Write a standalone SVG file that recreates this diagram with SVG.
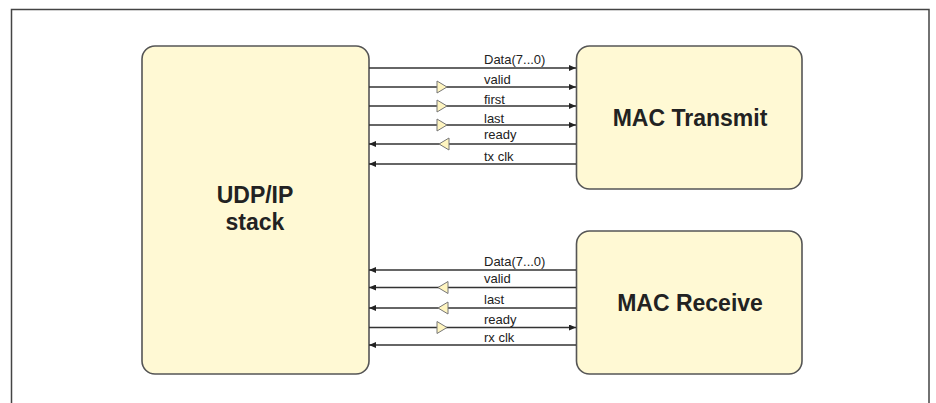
<svg xmlns="http://www.w3.org/2000/svg" width="936" height="403" viewBox="0 0 936 403">
<style>
.box{fill:#fff9d4;stroke:#555;stroke-width:1.6}
.big{font-family:"Liberation Sans",Arial,sans-serif;font-weight:bold;fill:#222;text-anchor:middle}
.lbl{font-family:"Liberation Sans",Arial,sans-serif;font-size:13px;fill:#222}
.w{stroke:#333;stroke-width:1.4;fill:none}
.buf{fill:#fff5c0;stroke:#777;stroke-width:1}
</style>
<defs>
<marker id="ah" markerWidth="8" markerHeight="6" refX="7" refY="3" orient="auto" markerUnits="userSpaceOnUse">
<path d="M0,0 L7,3 L0,6 Z" fill="#222"/>
</marker>
</defs>
<path d="M11.5,403 V9.5 H929 V403" fill="none" stroke="#444" stroke-width="1.5"/>
<g id="udp">
<rect class="box" x="142" y="46" width="227" height="328" rx="13"/>
<text class="big" font-size="23" x="255" y="203">UDP/IP</text>
<text class="big" font-size="23" x="255" y="230">stack</text>
</g>
<g id="mactx">
<rect class="box" x="576.5" y="46" width="225.5" height="143" rx="13"/>
<text class="big" font-size="23" x="690" y="126">MAC Transmit</text>
</g>
<g id="macrx">
<rect class="box" x="576.5" y="231" width="225.5" height="143" rx="13"/>
<text class="big" font-size="23" x="690" y="311">MAC Receive</text>
</g>
<g id="connectors">
<line class="w" x1="369" y1="68" x2="576" y2="68" marker-end="url(#ah)"/>
<line class="w" x1="369" y1="87" x2="576" y2="87" marker-end="url(#ah)"/>
<line class="w" x1="369" y1="106" x2="576" y2="106" marker-end="url(#ah)"/>
<line class="w" x1="369" y1="125" x2="576" y2="125" marker-end="url(#ah)"/>
<line class="w" x1="576" y1="144" x2="369" y2="144" marker-end="url(#ah)" stroke-width="2"/>
<line class="w" x1="576" y1="164" x2="369" y2="164" marker-end="url(#ah)"/>
<path class="buf" d="M437,81 L447,87 L437,93 Z"/>
<path class="buf" d="M437,100 L447,106 L437,112 Z"/>
<path class="buf" d="M437,119 L447,125 L437,131 Z"/>
<path class="buf" d="M449,138 L439,144 L449,150 Z"/>
<line class="w" x1="576" y1="270" x2="369" y2="270" marker-end="url(#ah)"/>
<line class="w" x1="576" y1="287.5" x2="369" y2="287.5" marker-end="url(#ah)"/>
<line class="w" x1="576" y1="308" x2="369" y2="308" marker-end="url(#ah)"/>
<line class="w" x1="369" y1="327.5" x2="576" y2="327.5" marker-end="url(#ah)"/>
<line class="w" x1="576" y1="345" x2="369" y2="345" marker-end="url(#ah)"/>
<path class="buf" d="M448,281.5 L438,287.5 L448,293.5 Z"/>
<path class="buf" d="M448,302 L438,308 L448,314 Z"/>
<path class="buf" d="M437,321.5 L447,327.5 L437,333.5 Z"/>
<text class="lbl" x="484" y="63.5">Data(7...0)</text>
<text class="lbl" x="484" y="84">valid</text>
<text class="lbl" x="484" y="104">first</text>
<text class="lbl" x="484" y="123">last</text>
<text class="lbl" x="484" y="138.5">ready</text>
<text class="lbl" x="484" y="160.5">tx clk</text>
<text class="lbl" x="484" y="265.5">Data(7...0)</text>
<text class="lbl" x="484" y="282.5">valid</text>
<text class="lbl" x="484" y="304">last</text>
<text class="lbl" x="484" y="324">ready</text>
<text class="lbl" x="484" y="341.5">rx clk</text>
</g>
</svg>
